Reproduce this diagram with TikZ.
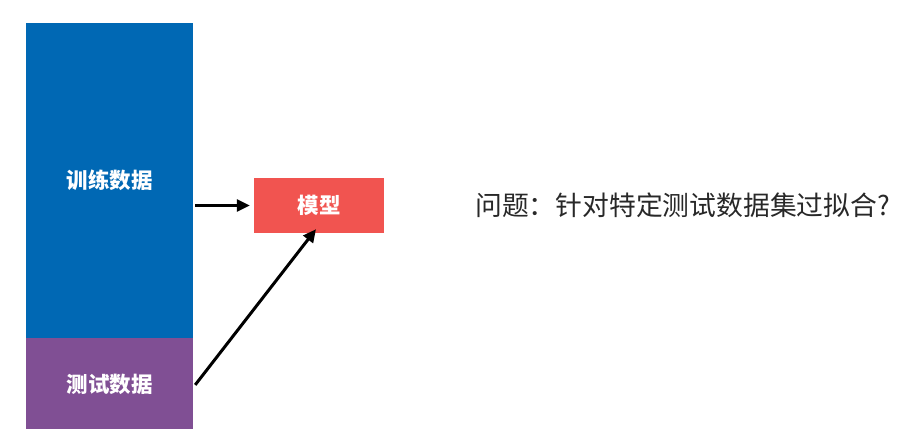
\documentclass[tikz,border=0pt]{standalone}
\usepackage{fontspec}
\setmainfont{Noto Sans CJK SC}
\usetikzlibrary{positioning,arrows.meta}
\definecolor{trainblue}{RGB}{0,104,180}
\definecolor{testpurple}{RGB}{128,79,148}
\definecolor{modelred}{RGB}{241,84,80}
\definecolor{questgray}{RGB}{40,40,40}
\begin{document}
\begin{tikzpicture}[
  node distance=0pt,
  block/.style={rectangle, inner sep=0pt, minimum width=167pt, text=white, font=\fontsize{21.5}{24}\selectfont\bfseries},
  arrow/.style={-{Triangle[length=13pt,width=12pt]}, line width=3pt}
]
\path[use as bounding box, fill=white] (0,0) rectangle (905pt,-442pt);
\node[block, fill=trainblue, minimum height=315pt] (train) at (109.5pt,-180.5pt) {训练数据};
\node[block, fill=testpurple, minimum height=91pt, below=of train] (test) {测试数据};
\node[block, fill=modelred, minimum width=130pt, minimum height=55pt] (model) at (319pt,-205.5pt) {模型};
\node[anchor=west, inner sep=0pt, text=questgray, font=\fontsize{26.8}{30}\selectfont] (question) at (475pt,-205pt) {问题：针对特定测试数据集过拟合?};
\draw[arrow] ([xshift=2pt]train.east |- model.west) -- ([xshift=-4pt]model.west);
\draw[arrow] ([xshift=2pt,yshift=-1pt]test.east) -- ([xshift=-3pt,yshift=4pt]model.south);
\end{tikzpicture}
\end{document}
